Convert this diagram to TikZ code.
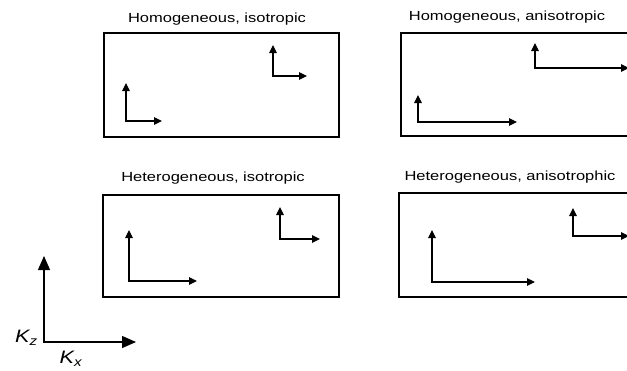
\documentclass[tikz,border=0pt]{standalone}
\usepackage{fontspec}
\setmainfont{Liberation Sans}
\usetikzlibrary{arrows.meta}
\tikzset{
  panel/.style={line width=2pt, draw=black},
  title/.style={font=\fontsize{13.2}{15}\selectfont, xscale=1.25, transform shape, inner sep=0pt},
  vec/.style={line width=1.2pt, {Triangle[length=8pt,width=7.5pt]}-{Triangle[length=8pt,width=7.5pt]}},
  axis/.style={line width=1.2pt, {Triangle[length=14pt,width=12pt]}-{Triangle[length=14pt,width=12pt]}},
  axlabel/.style={font=\fontsize{18}{20}\selectfont\itshape, xscale=1.2, transform shape, inner sep=0pt}
}
\begin{document}
\begin{tikzpicture}[x=1pt,y=-1pt]
\useasboundingbox (0,0) rectangle (627,370);
\clip (0,0) rectangle (627,370);

% panels
\draw[panel] (104,33) rectangle (339,137);
\draw[panel] (401,33) rectangle (631,136);
\draw[panel] (103,195) rectangle (339,297);
\draw[panel] (399,193) rectangle (631,297);

% panel titles
\node[title] (t1) at (217,19.5) {Homogeneous, isotropic};
\node[title] (t2) at (507,17.5) {Homogeneous, anisotropic};
\node[title] (t3) at (213,178.5) {Heterogeneous, isotropic};
\node[title] (t4) at (510,177.5) {Heterogeneous, anisotrophic};

% conductivity vectors: homogeneous, isotropic
\coordinate (a1u) at (126,83);  \coordinate (a1c) at (126,121); \coordinate (a1r) at (162,121);
\coordinate (b1u) at (273,45);  \coordinate (b1c) at (273,76);  \coordinate (b1r) at (307,76);
\draw[vec] (a1u) -- (a1c) -- (a1r);
\draw[vec] (b1u) -- (b1c) -- (b1r);

% homogeneous, anisotropic
\coordinate (a2u) at (418,95);  \coordinate (a2c) at (418,122); \coordinate (a2r) at (517,122);
\coordinate (b2u) at (535,43);  \coordinate (b2c) at (535,68);  \coordinate (b2r) at (629,68);
\draw[vec] (a2u) -- (a2c) -- (a2r);
\draw[vec] (b2u) -- (b2c) -- (b2r);

% heterogeneous, isotropic
\coordinate (a3u) at (129,230); \coordinate (a3c) at (129,281); \coordinate (a3r) at (197,281);
\coordinate (b3u) at (280,207); \coordinate (b3c) at (280,239); \coordinate (b3r) at (320,239);
\draw[vec] (a3u) -- (a3c) -- (a3r);
\draw[vec] (b3u) -- (b3c) -- (b3r);

% heterogeneous, anisotropic
\coordinate (a4u) at (432,230); \coordinate (a4c) at (432,282); \coordinate (a4r) at (535,282);
\coordinate (b4u) at (573,208); \coordinate (b4c) at (573,236); \coordinate (b4r) at (629,236);
\draw[vec] (a4u) -- (a4c) -- (a4r);
\draw[vec] (b4u) -- (b4c) -- (b4r);

% reference axes
\coordinate (ou) at (44,256);
\coordinate (o) at (44,342);
\coordinate (or) at (136,342);
\draw[axis] (ou) -- (o) -- (or);
\node[axlabel, anchor=east] (kz) at (38,338) {K\textsubscript{z}};
\node[axlabel] (kx) at (71,359) {K\textsubscript{x}};
\end{tikzpicture}
\end{document}
